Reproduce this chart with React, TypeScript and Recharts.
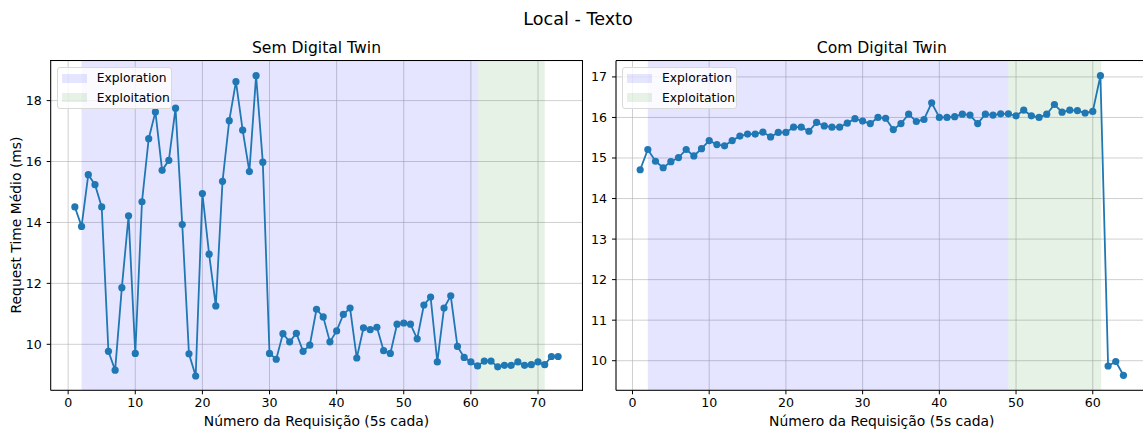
import React from 'react';
import {
  LineChart, Line, XAxis, YAxis, CartesianGrid, ReferenceArea,
} from 'recharts';

const FONT = '"DejaVu Sans", sans-serif';
const LINE_COLOR = '#1f77b4';

// Sem Digital Twin: request time médio (ms) por requisição (1..73)
const semTempos = [
  14.51, 13.87, 15.57, 15.24, 14.51, 9.77, 9.15, 11.86, 14.22, 9.70,
  14.68, 16.75, 17.63, 15.71, 16.04, 17.75, 13.93, 9.69, 8.96, 14.95,
  12.96, 11.26, 15.35, 17.34, 18.62, 17.03, 15.67, 18.82, 15.98, 9.70,
  9.51, 10.35, 10.08, 10.36, 9.77, 9.97, 11.15, 10.90, 10.08, 10.44,
  10.98, 11.19, 9.55, 10.54, 10.48, 10.56, 9.79, 9.70, 10.66, 10.70,
  10.66, 10.18, 11.29, 11.55, 9.42, 11.19, 11.59, 9.93, 9.57, 9.42,
  9.29, 9.45, 9.45, 9.26, 9.31, 9.31, 9.42, 9.31, 9.33, 9.42,
  9.33, 9.60, 9.60,
];

// Com Digital Twin: request time médio (ms) por requisição (1..64)
const comTempos = [
  14.71, 15.21, 14.92, 14.76, 14.91, 15.01, 15.21, 15.05, 15.23, 15.43,
  15.33, 15.30, 15.43, 15.54, 15.59, 15.59, 15.64, 15.52, 15.63, 15.63,
  15.76, 15.76, 15.66, 15.88, 15.79, 15.76, 15.76, 15.86, 15.97, 15.91,
  15.85, 16.00, 15.98, 15.70, 15.85, 16.08, 15.90, 15.95, 16.36, 16.00,
  16.00, 16.02, 16.08, 16.06, 15.85, 16.08, 16.06, 16.09, 16.09, 16.04,
  16.18, 16.04, 16.00, 16.08, 16.32, 16.13, 16.18, 16.17, 16.11, 16.15,
  17.03, 9.87, 9.98, 9.64,
];

// fases (inicio, fim) em número da requisição
const semExploration = [2, 61.1];
const semExploitation = [61.1, 71];
const comExploration = [2, 49];
const comExploitation = [49, 61.1];

const semXTicks = [0, 10, 20, 30, 40, 50, 60, 70];
const semYTicks = [10, 12, 14, 16, 18];
const comXTicks = [0, 10, 20, 30, 40, 50, 60];
const comYTicks = [10, 11, 12, 13, 14, 15, 16, 17];

const toRows = (values: number[]) => values.map((y, i) => ({ x: i + 1, y }));

const PLOT_TOP = 60.7;
const PLOT_BOTTOM = 390.3;

type PanelProps = {
  left: number;
  width: number;
  yAxisWidth: number;
  rightMargin: number;
  title: string;
  values: number[];
  exploration: number[];
  exploitation: number[];
  xDomain: [number, number];
  yDomain: [number, number];
  xTicks: number[];
  yTicks: number[];
};

const tickStyle = { fontSize: 12.6, fill: '#000', fontFamily: FONT };

const Legend = ({ left, top }: { left: number; top: number }) => (
  <div
    style={{
      position: 'absolute', left, top, width: 113, height: 40,
      background: 'rgba(255,255,255,0.8)', border: '1px solid #d9d9d9',
      borderRadius: 3, fontFamily: FONT, fontSize: 12.3, color: '#000',
    }}
  >
    {[
      { label: 'Exploration', color: 'rgba(0,0,255,0.1)' },
      { label: 'Exploitation', color: 'rgba(0,128,0,0.1)' },
    ].map((item, i) => (
      <div key={item.label} style={{ position: 'absolute', left: 4, top: 1 + i * 19.5, height: 19, display: 'flex', alignItems: 'center' }}>
        <span style={{ display: 'inline-block', width: 25, height: 9, background: item.color, marginRight: 10 }} />
        <span>{item.label}</span>
      </div>
    ))}
  </div>
);

const Panel = (p: PanelProps) => {
  const plotLeft = p.left + p.yAxisWidth;
  const plotRight = p.left + p.width - p.rightMargin;
  const center = (plotLeft + plotRight) / 2;
  return (
    <>
      <div style={{ position: 'absolute', left: center - 150, width: 300, top: 39.4, textAlign: 'center', fontFamily: FONT, fontSize: 15.6, color: '#000' }}>
        {p.title}
      </div>
      <div style={{ position: 'absolute', left: p.left, top: 0 }}>
        <LineChart
          width={p.width}
          height={431}
          data={toRows(p.values)}
          margin={{ top: PLOT_TOP, right: p.rightMargin, left: 0, bottom: 431 - PLOT_BOTTOM - 30 }}
        >
          <CartesianGrid stroke="#b0b0b0" strokeWidth={0.8} strokeOpacity={0.75} />
          <ReferenceArea x1={p.exploration[0]} x2={p.exploration[1]} fill="rgb(0,0,255)" fillOpacity={0.1} stroke="none" ifOverflow="hidden" />
          <ReferenceArea x1={p.exploitation[0]} x2={p.exploitation[1]} fill="rgb(0,128,0)" fillOpacity={0.1} stroke="none" ifOverflow="hidden" />
          <XAxis
            dataKey="x" type="number" domain={p.xDomain} ticks={p.xTicks} allowDataOverflow
            height={30} tickSize={4} tickMargin={4} tick={tickStyle}
            axisLine={{ stroke: '#000', strokeWidth: 1 }} tickLine={{ stroke: '#000' }}
          />
          <YAxis
            type="number" domain={p.yDomain} ticks={p.yTicks} allowDataOverflow
            width={p.yAxisWidth} tickSize={4} tickMargin={5} tick={tickStyle}
            axisLine={{ stroke: '#000', strokeWidth: 1 }} tickLine={{ stroke: '#000' }}
          />
          <Line
            dataKey="y" stroke={LINE_COLOR} strokeWidth={1.8}
            dot={{ r: 3.6, fill: LINE_COLOR, stroke: LINE_COLOR, strokeWidth: 0 }}
            activeDot={false} isAnimationActive={false}
          />
        </LineChart>
      </div>
      {/* moldura do eixo (spines) */}
      <div
        style={{
          position: 'absolute', left: plotLeft - 0.5, top: PLOT_TOP - 0.5,
          width: plotRight - plotLeft, height: PLOT_BOTTOM - PLOT_TOP,
          borderTop: '1.2px solid #000', borderRight: '1.2px solid #000', pointerEvents: 'none',
        }}
      />
      <div style={{ position: 'absolute', left: center - 200, width: 400, top: 412.7, textAlign: 'center', fontFamily: FONT, fontSize: 13.9, color: '#000' }}>
        Número da Requisição (5s cada)
      </div>
      <Legend left={plotLeft + 6} top={66.5} />
    </>
  );
};

export default function App() {
  return (
    <div style={{ position: 'fixed', left: 0, top: 0, width: 1143, height: 431, overflow: 'hidden', background: '#fff' }}>
      <div style={{ position: 'absolute', left: 0, width: 1156, top: 9.4, textAlign: 'center', fontFamily: FONT, fontSize: 17.6, color: '#000' }}>
        Local - Texto
      </div>
      <div
        style={{
          position: 'absolute', left: 16, top: 225, transform: 'translate(-50%, -50%) rotate(-90deg)',
          whiteSpace: 'nowrap', fontFamily: FONT, fontSize: 13.9, color: '#000',
        }}
      >
        Request Time Médio (ms)
      </div>
      <Panel
        left={0} width={600} yAxisWidth={50.7} rightMargin={17.7}
        title="Sem Digital Twin" values={semTempos}
        exploration={semExploration} exploitation={semExploitation}
        xDomain={[-2.6, 76.6]} yDomain={[8.49, 19.31]}
        xTicks={semXTicks} yTicks={semYTicks}
      />
      <Panel
        left={566} width={590} yAxisWidth={50} rightMargin={8.4}
        title="Com Digital Twin" values={comTempos}
        exploration={comExploration} exploitation={comExploitation}
        xDomain={[-2.15, 67.15]} yDomain={[9.27, 17.4]}
        xTicks={comXTicks} yTicks={comYTicks}
      />
    </div>
  );
}
